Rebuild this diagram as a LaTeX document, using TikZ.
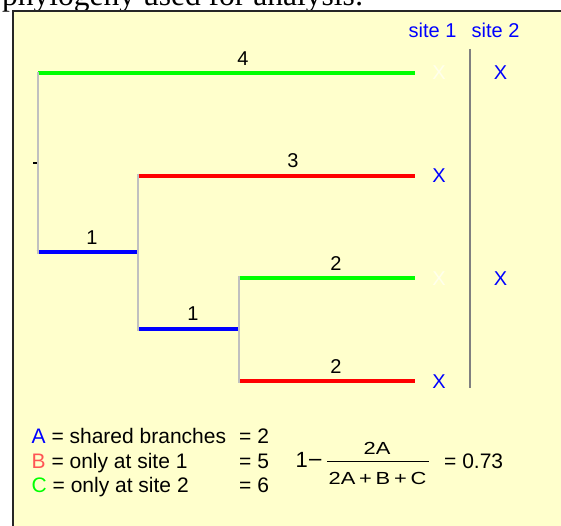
\documentclass[tikz,border=0pt]{standalone}
\usepackage{fontspec}
\setmainfont{Liberation Sans}
\newfontfamily\headfont{Liberation Serif}
\definecolor{boxbg}{RGB}{255,255,204}
\definecolor{brgreen}{RGB}{0,255,0}
\definecolor{brred}{RGB}{255,0,0}
\definecolor{brblue}{RGB}{0,0,255}
\definecolor{treegray}{RGB}{192,192,192}
\definecolor{divgray}{RGB}{128,128,128}
\definecolor{lightred}{RGB}{255,85,85}
\definecolor{faintx}{RGB}{255,255,236}
\begin{document}
\begin{tikzpicture}[x=1pt,y=-1pt,
  branch/.style={line width=4pt},
  joint/.style={line width=2.6pt, draw=treegray},
  lbl/.style={anchor=base, inner sep=0pt, font=\fontsize{20}{24}\selectfont},
  xmark/.style={anchor=base, inner sep=0pt, text=brblue, font=\fontsize{20}{24}\selectfont},
  sitelbl/.style={anchor=base west, inner sep=0pt, text=brblue, font=\fontsize{20}{24}\selectfont},
  legend/.style={anchor=base west, inner sep=0pt, font=\fontsize{21}{25}\selectfont},
  frac/.style={anchor=base, inner sep=0pt, font=\fontsize{17.5}{21}\selectfont}]
\useasboundingbox (0,0) rectangle (561,526);
\clip (0,0) rectangle (561,526);
% heading (cut off at the top)
\node[anchor=base west, inner sep=0pt, font=\headfont\fontsize{31.5}{36}\selectfont] (head) at (2,6) {phylogeny used for analysis:};
% panel
\draw[line width=2pt, draw=black!85, fill=boxbg] (13,11.5) rectangle (620,620);
% tree coordinates
\coordinate (a1) at (38,73);
\coordinate (a1e) at (415,73);
\coordinate (r) at (38,252);
\coordinate (r0) at (36.7,252);
\coordinate (n1) at (137.5,252);
\coordinate (b1) at (138,176);
\coordinate (b1e) at (415,176);
\coordinate (b2) at (138,329);
\coordinate (n2) at (238,329);
\coordinate (c1) at (239,278);
\coordinate (c1e) at (415,278);
\coordinate (c2) at (239,381);
\coordinate (c2e) at (415,381);
% branches
\draw[branch, brgreen] (a1) -- (a1e);
\draw[branch, brblue] (r0) -- (n1);
\draw[branch, brred] (b1) -- (b1e);
\draw[branch, brblue] (b2) -- (n2);
\draw[branch, brgreen] (c1) -- (c1e);
\draw[branch, brred] (c2) -- (c2e);
% joints
\draw[joint] (38,72) -- (38,254);
\draw[joint] (138,174) -- (138,331);
\draw[joint] (239,276) -- (239,383);
% tick
\coordinate (t0) at (33,163);
\coordinate (t1) at (37,163);
\draw[line width=2pt, black] (t0) -- (t1);
% branch labels
\node[lbl] (l4) at (243,66) {4};
\node[lbl] (l3) at (293,168) {3};
\node[lbl] (l2a) at (336,270) {2};
\node[lbl] (l2b) at (336,373) {2};
\node[lbl] (l1a) at (92,244) {1};
\node[lbl] (l1b) at (193,320) {1};
% sites
\node[sitelbl] (s1) at (408.5,38) {site 1};
\node[sitelbl] (s2) at (471.5,38) {site 2};
\coordinate (d0) at (470,49);
\coordinate (d1) at (470,388);
\draw[line width=1.6pt, divgray] (d0) -- (d1);
\node[xmark, text=faintx] (x1a) at (439,80) {X};
\node[xmark] (x2a) at (500.5,80) {X};
\node[xmark] (x1b) at (439,183) {X};
\node[xmark, text=faintx] (x1c) at (439,285) {X};
\node[xmark] (x2c) at (500.5,285) {X};
\node[xmark] (x1d) at (439,388) {X};
% legend
\node[legend] (la) at (31.5,443) {\textcolor{brblue}{A} = shared branches};
\node[legend] (lb) at (31.5,468) {\textcolor{lightred}{B} = only at site 1};
\node[legend] (lc) at (31.5,492) {\textcolor{brgreen}{C} = only at site 2};
\node[legend] (va) at (239,443) {= 2};
\node[legend] (vb) at (239,468) {= 5};
\node[legend] (vc) at (239,492) {= 6};
% formula
\node[anchor=base west, inner sep=0pt, font=\fontsize{22}{26}\selectfont] (one) at (295.5,467) {1\scalebox{1.15}[1]{−}};
\coordinate (f0) at (327,461);
\coordinate (f1) at (429,461);
\draw[line width=1pt, black] (f0) -- (f1);
\node[frac] (num) at (377,454) {\scalebox{1.25}[1]{2A}};
\node[frac] (den) at (377.5,484) {\scalebox{1.25}[1]{2A\hspace{3pt}+\hspace{3pt}B\hspace{3pt}+\hspace{3pt}C}};
\node[legend] (res) at (444,468) {= 0.73};
\end{tikzpicture}
\end{document}
